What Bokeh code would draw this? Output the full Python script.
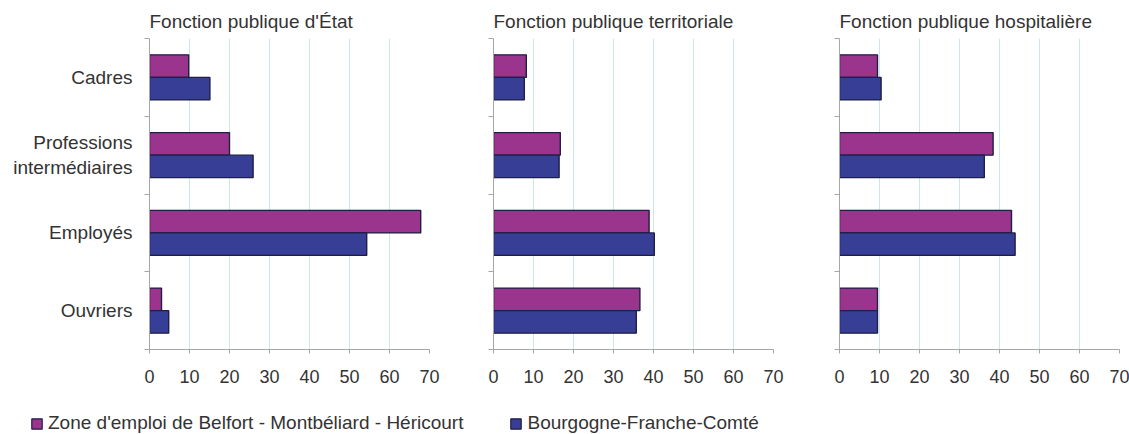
import numpy as np
from bokeh.plotting import figure
from bokeh.layouts import row, column
from bokeh.models import Range1d, FixedTicker, Legend, LegendItem
from bokeh.embed import file_html
from bokeh.resources import INLINE

# ---- data ----
categories = ["Cadres", "Professions intermédiaires", "Employés", "Ouvriers"]
category_labels = ["Cadres", "Professions\nintermédiaires", "Employés", "Ouvriers"]
panel_titles = ["Fonction publique d'État", "Fonction publique territoriale",
                "Fonction publique hospitalière"]
series_names = ["Zone d'emploi de Belfort - Montbéliard - Héricourt",
                "Bourgogne-Franche-Comté"]

etat_zone = [9.8, 20.0, 67.8, 3.0]
etat_bfc = [15.1, 25.9, 54.3, 4.8]
terr_zone = [8.2, 16.7, 38.9, 36.6]
terr_bfc = [7.7, 16.4, 40.2, 35.7]
hosp_zone = [9.5, 38.4, 43.0, 9.5]
hosp_bfc = [10.4, 36.2, 43.9, 9.5]

x_ticks = [0, 10, 20, 30, 40, 50, 60, 70]

# ---- style ----
FONT = "Liberation Sans"
TXT = "#333333"
MAGENTA = "#9b348c"
BLUE = "#373e96"
OUTLINE = "#1e1e46"
AXIS = "#a6a6a6"
GRID = "#cde6ea"
BAR_H = 0.29


def make_panel(title, zone, bfc, show_labels, width, bl, br):
    p = figure(width=width, height=400, output_backend="svg", toolbar_location=None,
               x_range=Range1d(0, 70), y_range=Range1d(4, 0),
               min_border_left=bl, min_border_right=br,
               min_border_top=38, min_border_bottom=51)
    p.outline_line_color = None
    p.background_fill_color = "white"
    p.border_fill_color = "white"

    p.title.text = title
    p.title.text_font = FONT
    p.title.text_font_size = "19px"
    p.title.text_font_style = "normal"
    p.title.text_color = TXT
    p.title.align = "left"
    p.title.standoff = 14

    n = len(categories)
    centers = np.arange(n) + 0.5
    p.hbar(y=centers - BAR_H / 2, left=0, right=zone, height=BAR_H,
           fill_color=MAGENTA, line_color=OUTLINE, line_width=1.4)
    p.hbar(y=centers + BAR_H / 2, left=0, right=bfc, height=BAR_H,
           fill_color=BLUE, line_color=OUTLINE, line_width=1.4)

    # x axis
    xa = p.xaxis[0]
    xa.ticker = FixedTicker(ticks=x_ticks)
    xa.axis_line_color = AXIS
    xa.major_tick_line_color = AXIS
    xa.major_tick_out = 4
    xa.major_tick_in = 0
    xa.minor_tick_line_color = None
    xa.major_label_text_font = FONT
    xa.major_label_text_font_size = "18px"
    xa.major_label_text_color = TXT
    xa.major_label_standoff = 16

    # y axis: labels at centres, small ticks at boundaries
    ya = p.yaxis[0]
    bounds = list(np.arange(n + 1))
    if show_labels:
        ya.ticker = FixedTicker(ticks=list(centers), minor_ticks=bounds)
        ya.major_label_overrides = {float(c): lab for c, lab in zip(centers, category_labels)}
        ya.major_label_text_font_size = "19px"
    else:
        ya.ticker = FixedTicker(ticks=[], minor_ticks=bounds)
    ya.axis_line_color = AXIS
    ya.major_tick_line_color = None
    ya.major_tick_out = 0
    ya.major_tick_in = 0
    ya.minor_tick_line_color = AXIS
    ya.minor_tick_out = 5
    ya.minor_tick_in = 0
    ya.major_label_standoff = 12
    ya.major_label_text_font = FONT
    ya.major_label_text_color = TXT

    p.xgrid.grid_line_color = GRID
    p.xgrid.grid_line_width = 1
    p.ygrid.grid_line_color = None
    return p, centers


p1, centers = make_panel(panel_titles[0], etat_zone, etat_bfc, True, 460, 149, 31)
p2, _ = make_panel(panel_titles[1], terr_zone, terr_bfc, False, 346, 33, 33)
p3, _ = make_panel(panel_titles[2], hosp_zone, hosp_bfc, False, 323, 33, 10)

# legend strip: its renderers carry the series but are hidden (legend swatches only)
lf = figure(width=1129, height=34, output_backend="svg", toolbar_location=None,
            x_range=Range1d(0, 70), y_range=Range1d(4, 0),
            x_axis_type=None, y_axis_type=None,
            min_border_left=0, min_border_right=0, min_border_top=0, min_border_bottom=0)
lf.outline_line_color = None
lf.xgrid.visible = False
lf.ygrid.visible = False
r1 = lf.hbar(y=centers, left=0, right=etat_zone, height=0.5,
             fill_color=MAGENTA, line_color=OUTLINE, line_width=1.2)
r2 = lf.hbar(y=centers, left=0, right=etat_bfc, height=0.5,
             fill_color=BLUE, line_color=OUTLINE, line_width=1.2)
r1.visible = False
r2.visible = False
legend = Legend(items=[LegendItem(label=series_names[0], renderers=[r1]),
                       LegendItem(label=series_names[1], renderers=[r2])],
                orientation="horizontal", location=(30, 0))
legend.glyph_width = 13
legend.glyph_height = 13
legend.label_standoff = 5
legend.spacing = 46
legend.padding = 0
legend.margin = 0
legend.border_line_color = None
legend.background_fill_alpha = 0
legend.label_text_font = FONT
legend.label_text_font_size = "19px"
legend.label_text_color = TXT
legend.label_height = 13
legend.click_policy = "none"
lf.add_layout(legend)

layout = column(row(p1, p2, p3), lf)
open("out.html", "w").write(file_html(layout, INLINE))
